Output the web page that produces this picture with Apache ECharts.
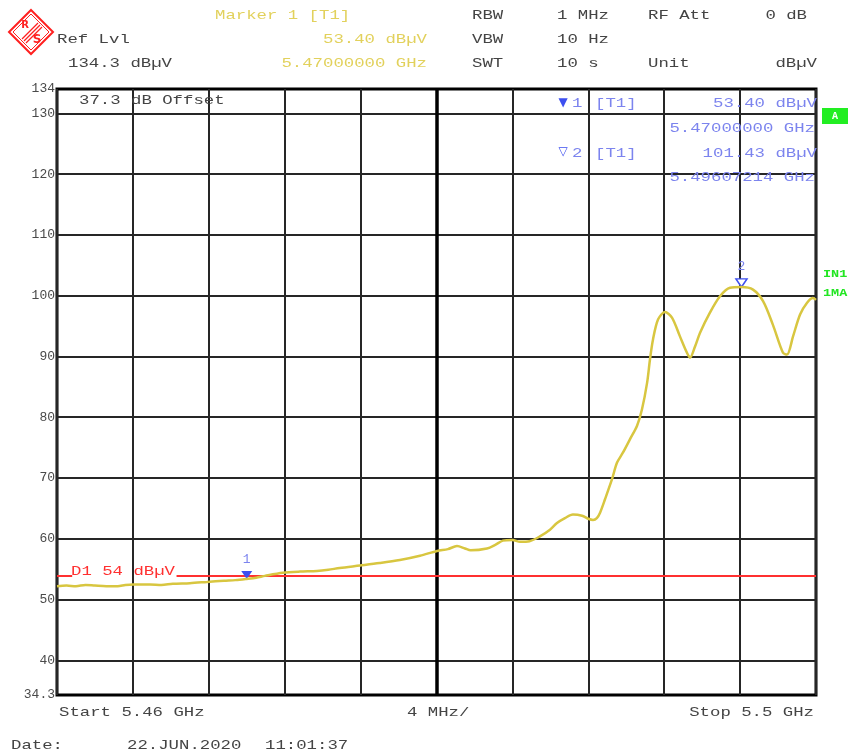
<!DOCTYPE html>
<html>
<head>
<meta charset="utf-8">
<script src="https://cdn.jsdelivr.net/npm/echarts@6/dist/echarts.min.js"></script>
<style>
  html, body { margin: 0; padding: 0; background: #ffffff; }
  #chart { width: 851px; height: 753px; }
</style>
</head>
<body>
<div id="chart"></div>
<script>
// Sweep: 5.46 GHz .. 5.5 GHz, trace 1 (max hold), level in dBµV
const freqMHz = [
  5460.0, 5460.5, 5461.0, 5461.5, 5462.0, 5462.6, 5463.2, 5463.6, 5464.0, 5464.9,
  5465.5, 5466.1, 5467.0, 5467.9, 5468.8, 5469.4, 5470.0, 5470.5, 5470.96, 5471.9,
  5472.8, 5473.7, 5474.3, 5474.9, 5475.97, 5477.0, 5478.07, 5479.13, 5480.03, 5480.6,
  5481.08, 5481.5, 5481.8, 5482.66, 5483.1, 5483.5, 5484.0, 5484.4, 5484.9, 5485.45,
  5485.98, 5486.35, 5486.77, 5487.19, 5487.67, 5488.0, 5488.25, 5488.45, 5488.62, 5488.88,
  5489.25, 5489.51, 5489.83, 5490.2, 5490.57, 5490.83, 5491.1, 5491.25, 5491.41, 5491.68,
  5492.04, 5492.41, 5492.83, 5493.2, 5493.36, 5493.62, 5493.89, 5494.41, 5494.94, 5495.47,
  5496.07, 5496.68, 5497.21, 5497.73, 5498.26, 5498.47, 5498.79, 5499.16, 5499.52, 5499.84,
  5500.0
];
const levelDbuV = [
  52.2, 52.3, 52.2, 52.4, 52.3, 52.2, 52.2, 52.4, 52.5, 52.5,
  52.4, 52.6, 52.7, 52.9, 53.1, 53.2, 53.4, 53.6, 53.9, 54.4,
  54.6, 54.7, 54.9, 55.2, 55.6, 56.0, 56.5, 57.2, 58.0, 58.3,
  58.8, 58.4, 58.1, 58.4, 59.0, 59.7, 59.8, 59.5, 59.6, 60.4,
  61.5, 62.6, 63.4, 64.0, 63.8, 63.3, 63.1, 63.4, 64.3, 66.5,
  69.8, 72.5, 74.2, 76.4, 78.6, 81.3, 85.7, 89.5, 92.8, 96.1,
  97.3, 96.4, 93.3, 90.6, 89.8, 91.6, 93.9, 97.2, 99.9, 101.3,
  101.43, 101.0, 99.1, 95.2, 90.6, 90.3, 93.3, 96.9, 98.8, 99.6,
  99.3
];

// Level axis labels (ref level 134 down to the bottom of the 10 dB/div screen)
const yTickValues = [34.3, 40, 50, 60, 70, 80, 90, 100, 110, 120, 130, 134];
const yGridValues = [40, 50, 60, 70, 80, 90, 100, 110, 120, 130];

// Markers on trace 1
const markerNames = ['1', '2'];
const markerFreqMHz = [5470.0, 5496.07214];
const markerLevel = [53.40, 101.43];
const markerFreqText = ['5.47000000 GHz', '5.49607214 GHz'];

// Display line D1
const limitLevel = 54;

const START_MHZ = 5460, STOP_MHZ = 5500, SPAN_DIV_MHZ = 4;

const chart = echarts.init(document.getElementById('chart'), null, { renderer: 'canvas' });

const MONO = '"Liberation Mono", "Courier New", monospace';
const DARK = '#444444';
const YEL = '#e2d15c';
const BLUE_T = '#7c84ee';
const BLUE_M = '#3d4ff0';

// Instrument-style text: narrow mono glyphs stretched horizontally
function txt(str, x, y, color, align, opts) {
  opts = opts || {};
  return {
    type: 'text', x: x, y: y, scaleX: opts.scaleX || 1.333, z: 100,
    style: {
      text: str,
      font: (opts.weight || 'normal') + ' ' + (opts.size || 13) + 'px ' + MONO,
      fill: color,
      align: align || 'left',
      verticalAlign: 'middle'
    }
  };
}

const unit = 'dBµV';
const trace = freqMHz.map((f, i) => [f, levelDbuV[i]]);

const graphics = [
  // R&S logo
  { type: 'polygon', z: 100, shape: { points: [[31, 10], [53, 32], [31, 54], [9, 32]] },
    style: { fill: 'none', stroke: '#ff2020', lineWidth: 2 } },
  { type: 'polygon', z: 100, shape: { points: [[31, 14], [49, 32], [31, 50], [13, 32]] },
    style: { fill: 'none', stroke: '#ff2020', lineWidth: 1 } },
  { type: 'line', z: 100, shape: { x1: 22, y1: 39, x2: 38, y2: 23 }, style: { stroke: '#ff2020', lineWidth: 1.2 } },
  { type: 'line', z: 100, shape: { x1: 24, y1: 41, x2: 40, y2: 25 }, style: { stroke: '#ff2020', lineWidth: 1.2 } },
  { type: 'line', z: 100, shape: { x1: 26, y1: 43, x2: 42, y2: 27 }, style: { stroke: '#ff2020', lineWidth: 1.2 } },
  { type: 'text', z: 101, x: 25, y: 25, style: { text: 'R', font: 'bold 10px "DejaVu Sans"', fill: '#ff2020', align: 'center', verticalAlign: 'middle' } },
  { type: 'text', z: 101, x: 37, y: 40, style: { text: 'S', font: 'bold 12px "DejaVu Sans"', fill: '#ff2020', align: 'center', verticalAlign: 'middle' } },

  // Header block
  txt('Marker 1 [T1]', 215, 15.5, YEL),
  txt('RBW', 472, 15.5, DARK),
  txt('1 MHz', 557, 15.5, DARK),
  txt('RF Att', 648, 15.5, DARK),
  txt('0 dB', 807, 15.5, DARK, 'right'),
  txt('Ref Lvl', 57, 39.5, DARK),
  txt(markerLevel[0].toFixed(2) + ' ' + unit, 427, 39.5, YEL, 'right'),
  txt('VBW', 472, 39.5, DARK),
  txt('10 Hz', 557, 39.5, DARK),
  txt('134.3 ' + unit, 68, 63.5, DARK),
  txt(markerFreqText[0], 427, 63.5, YEL, 'right'),
  txt('SWT', 472, 63.5, DARK),
  txt('10 s', 557, 63.5, DARK),
  txt('Unit', 648, 63.5, DARK),
  txt(unit, 817, 63.5, DARK, 'right'),

  // Offset note
  txt('37.3 dB Offset', 79, 100.5, DARK),

  // Marker table
  { type: 'text', z: 100, x: 563, y: 103, style: { text: '▼', font: '12px "DejaVu Sans"', fill: BLUE_M, align: 'center', verticalAlign: 'middle' } },
  txt(markerNames[0], 572, 104, BLUE_T),
  txt('[T1]', 595, 104, BLUE_T),
  txt(markerLevel[0].toFixed(2) + ' ' + unit, 817, 104, BLUE_T, 'right'),
  txt(markerFreqText[0], 815, 128.5, BLUE_T, 'right'),
  { type: 'text', z: 100, x: 563, y: 152, style: { text: '▽', font: '12px "DejaVu Sans"', fill: BLUE_M, align: 'center', verticalAlign: 'middle' } },
  txt(markerNames[1], 572, 153.5, BLUE_T),
  txt('[T1]', 595, 153.5, BLUE_T),
  txt(markerLevel[1].toFixed(2) + ' ' + unit, 817, 153.5, BLUE_T, 'right'),
  txt(markerFreqText[1], 815, 177.5, BLUE_T, 'right'),

  // Side annotations
  { type: 'rect', z: 100, shape: { x: 822, y: 108, width: 26, height: 16 }, style: { fill: '#22ee22' } },
  { type: 'text', z: 101, x: 835, y: 116.5, style: { text: 'A', font: 'bold 10px ' + MONO, fill: '#ffffff', align: 'center', verticalAlign: 'middle' } },
  txt('IN1', 823, 274, '#22e622', 'left', { weight: 'bold', size: 10, scaleX: 1.35 }),
  txt('1MA', 823, 293.5, '#22e622', 'left', { weight: 'bold', size: 10, scaleX: 1.35 }),

  // Display line label
  txt('D1 ' + limitLevel + ' ' + unit, 71, 572, '#ff3030'),

  // Footer
  txt('Start 5.46 GHz', 59, 712.5, DARK),
  txt(SPAN_DIV_MHZ + ' MHz/', 407, 713, DARK),
  txt('Stop 5.5 GHz', 814, 713, DARK, 'right'),
  txt('Date:', 11, 745.5, DARK),
  txt('22.JUN.2020', 127, 745.5, DARK),
  txt('11:01:37', 265, 745.5, DARK)
];

const option = {
  animation: false,
  backgroundColor: '#ffffff',
  grid: {
    left: 57, right: 35, top: 89, height: 606,
    show: true, borderColor: '#000000', borderWidth: 3, backgroundColor: 'transparent'
  },
  xAxis: {
    type: 'value', min: START_MHZ, max: STOP_MHZ, interval: SPAN_DIV_MHZ,
    axisLine: { show: false }, axisTick: { show: false }, axisLabel: { show: false },
    splitLine: { show: true, lineStyle: { color: '#262626', width: 2 } }
  },
  yAxis: {
    type: 'value', min: 34.3, max: 134, splitNumber: 10,
    axisLine: { show: false },
    axisTick: { show: false, customValues: yGridValues },
    axisLabel: {
      customValues: yTickValues,
      fontFamily: MONO, fontSize: 13, color: '#4a4a4a',
      margin: 2, verticalAlign: 'middle', lineHeight: 11, padding: [0, 0, 4, 0]
    },
    splitLine: { show: true, lineStyle: { color: '#262626', width: 2 } }
  },
  graphic: graphics,
  series: [
    {
      // center division and display line D1
      type: 'line', data: [], z: 1, silent: true,
      markLine: {
        silent: true, symbol: 'none', label: { show: false },
        data: [
          { xAxis: (START_MHZ + STOP_MHZ) / 2, lineStyle: { color: '#000000', width: 3.5, type: 'solid' } },
          [{ coord: [START_MHZ, limitLevel], lineStyle: { color: '#ff3030', width: 2, type: 'solid' } },
           { coord: [5460.8, limitLevel] }],
          [{ coord: [5466.3, limitLevel], lineStyle: { color: '#ff3030', width: 2, type: 'solid' } },
           { coord: [STOP_MHZ, limitLevel] }]
        ]
      }
    },
    {
      name: 'Trace 1', type: 'line', data: trace, z: 5,
      showSymbol: false, smooth: 0.3,
      lineStyle: { color: '#d8c640', width: 2.5 },
      markPoint: {
        silent: true,
        data: [
          {
            coord: [markerFreqMHz[0], markerLevel[0]], symbol: 'triangle', symbolRotate: 180,
            symbolSize: [11, 8], symbolOffset: [0, -4],
            itemStyle: { color: BLUE_M },
            label: { show: true, formatter: markerNames[0], position: 'top', distance: 5,
                     color: BLUE_T, fontFamily: MONO, fontSize: 13 }
          },
          {
            coord: [markerFreqMHz[1], markerLevel[1]], symbol: 'triangle', symbolRotate: 180,
            symbolSize: [11, 8], symbolOffset: [0, -4],
            itemStyle: { color: '#ffffff', borderColor: BLUE_M, borderWidth: 1.5 },
            label: { show: true, formatter: markerNames[1], position: 'top', distance: 5,
                     color: BLUE_T, fontFamily: MONO, fontSize: 13 }
          }
        ]
      }
    }
  ]
};

chart.setOption(option);
</script>
</body>
</html>
